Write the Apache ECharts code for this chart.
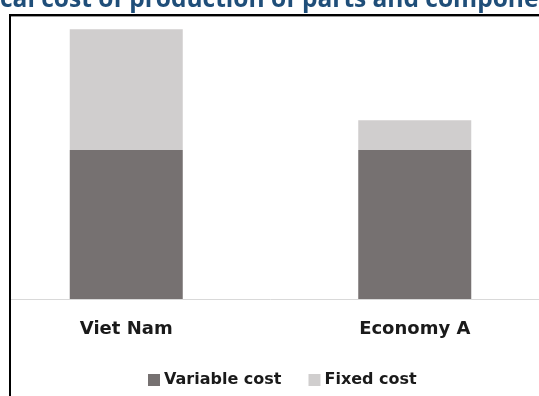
<!DOCTYPE html>
<html>
<head>
<meta charset="utf-8">
<script src="https://cdn.jsdelivr.net/npm/echarts@6/dist/echarts.min.js"></script>
<style>
  html, body { margin: 0; padding: 0; background: #ffffff; overflow: hidden; }
  #wrap { width: 539px; height: 396px; overflow: hidden; position: relative; }
  /* the plot area runs slightly past both sides of the frame */
  #chart { width: 577px; height: 396px; position: absolute; left: -18px; top: 0; }
</style>
</head>
<body>
<div id="wrap"><div id="chart"></div></div>
<script>
// Typical cost of production, split into variable and fixed parts
const categories = ['Viet Nam', 'Economy A'];
const variableCost = [100, 100];
const fixedCost = [81, 20];
const seriesNames = ['Variable cost', 'Fixed cost'];
const titleText = 'Typical cost of production of parts and components';

const OX = 18; // horizontal offset of the chart canvas inside the frame
const titleFont = 'bold 24.5px "Open Sans"';
// The heading runs wider than the frame; its start sits off the left edge
const ctx = document.createElement('canvas').getContext('2d');
ctx.font = titleFont;
const titleShift = ctx.measureText('Typi').width;

const chart = echarts.init(document.getElementById('chart'), null, { renderer: 'canvas' });

chart.setOption({
  animation: false,
  backgroundColor: '#ffffff',
  grid: { left: 0, right: 0, top: 1, bottom: 97, containLabel: false },
  xAxis: {
    type: 'category',
    data: categories,
    axisLine: { show: true, lineStyle: { color: '#d9d9d9', width: 1 } },
    axisTick: { show: false },
    axisLabel: {
      margin: 21,
      color: '#1a1a1a',
      fontFamily: 'DejaVu Sans',
      fontWeight: 'bold',
      fontSize: 18
    }
  },
  yAxis: {
    type: 'value',
    min: 0,
    max: 200,
    show: false,
    splitLine: { show: false }
  },
  legend: {
    data: seriesNames,
    left: OX + 143,
    top: 367,
    itemWidth: 12,
    itemHeight: 12,
    itemGap: 27,
    icon: 'rect',
    textStyle: {
      color: '#1a1a1a',
      fontFamily: 'DejaVu Sans',
      fontWeight: 'bold',
      fontSize: 16,
      padding: [0, 0, 0, -1]
    }
  },
  series: [
    {
      name: seriesNames[0],
      type: 'bar',
      stack: 'cost',
      data: variableCost,
      barWidth: 113,
      itemStyle: { color: '#767171' }
    },
    {
      name: seriesNames[1],
      type: 'bar',
      stack: 'cost',
      data: fixedCost,
      barWidth: 113,
      itemStyle: { color: '#d0cece' }
    }
  ],
  graphic: [
    {
      type: 'rect',
      z: 100,
      shape: { x: 0, y: 17, width: OX + 9, height: 379 },
      style: { fill: '#ffffff' }
    },
    {
      type: 'line',
      z: 101,
      shape: { x1: OX + 10, y1: 15, x2: OX + 10, y2: 396 },
      style: { stroke: '#000000', lineWidth: 2 }
    },
    {
      type: 'line',
      z: 101,
      shape: { x1: OX + 9, y1: 15, x2: OX + 539, y2: 15 },
      style: { stroke: '#000000', lineWidth: 2 }
    },
    {
      type: 'line',
      z: 101,
      shape: { x1: OX + 11, y1: 16.5, x2: OX + 539, y2: 16.5 },
      style: { stroke: '#9a9a9a', lineWidth: 1 }
    },
    {
      type: 'text',
      z: 102,
      x: OX - titleShift,
      y: 13,
      style: {
        text: titleText,
        font: titleFont,
        fill: '#1f4e79',
        textVerticalAlign: 'bottom',
        verticalAlign: 'bottom'
      }
    }
  ]
});
</script>
</body>
</html>
